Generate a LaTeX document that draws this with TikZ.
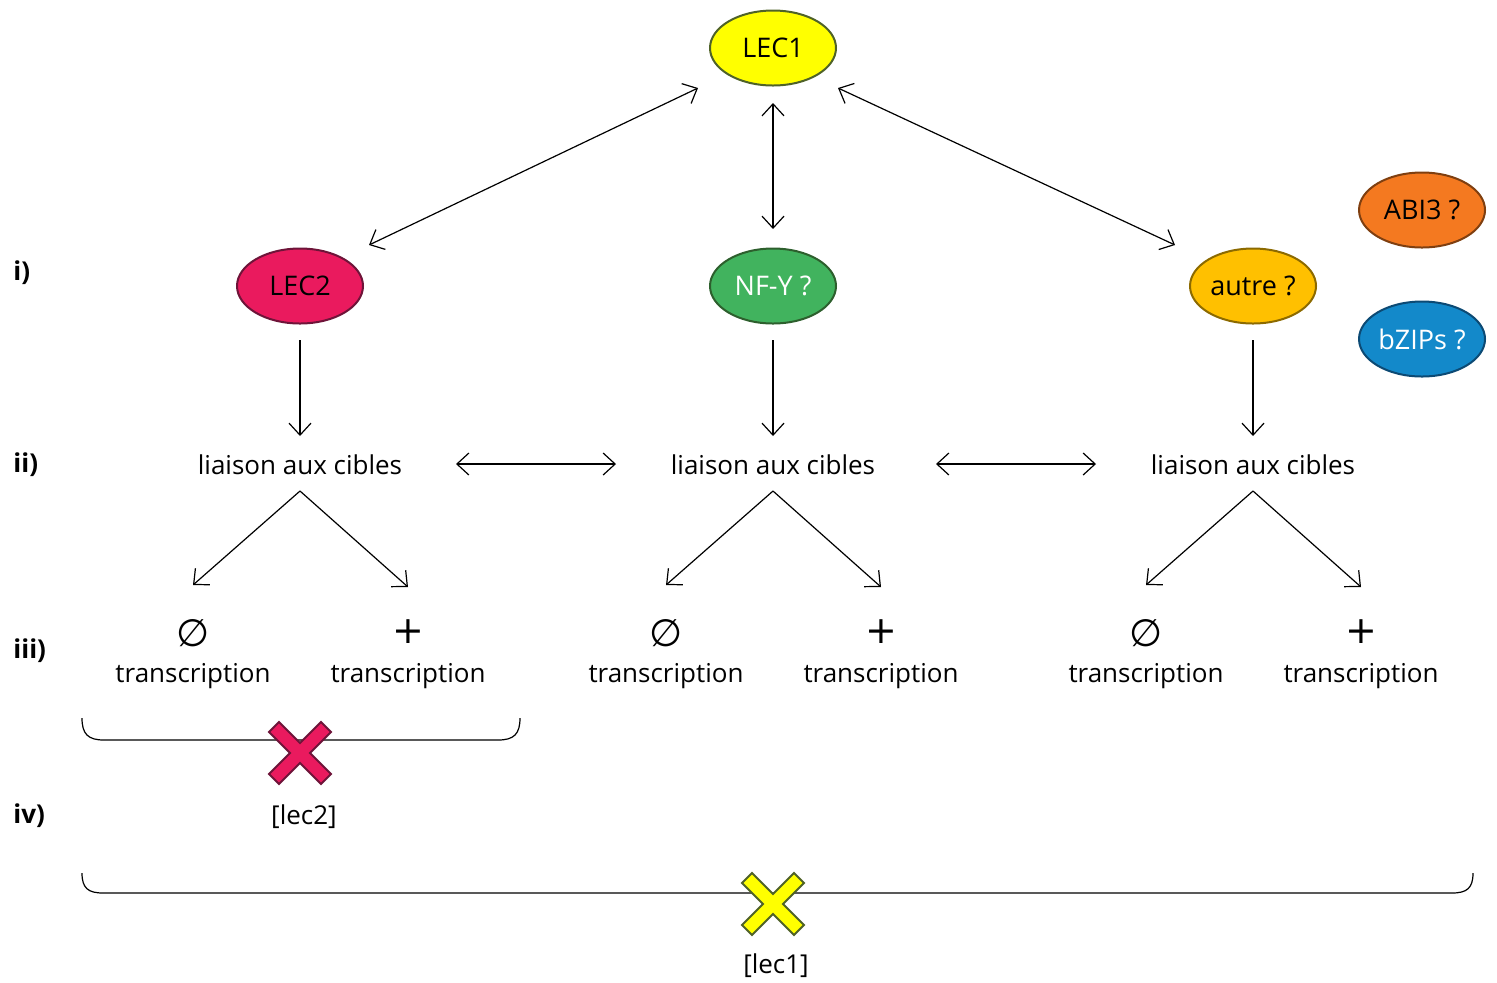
\documentclass[tikz,border=0pt]{standalone}
\usepackage{fontspec}
\setmainfont{Open Sans}
\newfontfamily\symfont{DejaVu Sans}
\usetikzlibrary{arrows.meta,shapes.geometric}
\definecolor{cLECone}{HTML}{FFFF00}
\definecolor{cLEConeB}{HTML}{4F6228}
\definecolor{cLECtwo}{HTML}{EA1A5E}
\definecolor{cLECtwoB}{HTML}{6E1439}
\definecolor{cNFY}{HTML}{41B35E}
\definecolor{cNFYB}{HTML}{2D5F2D}
\definecolor{cAutre}{HTML}{FFC000}
\definecolor{cAutreB}{HTML}{8C6A00}
\definecolor{cABI}{HTML}{F47920}
\definecolor{cABIB}{HTML}{7F3F10}
\definecolor{cBZIP}{HTML}{1389CA}
\definecolor{cBZIPB}{HTML}{0C4A74}
\newcommand{\xcross}[3]{%
  \draw[line width=1pt, draw=#2, fill=#3, shift={(#1)}]
    (0,-10) -- (21,-31) -- (31,-21) -- (10,0) -- (31,21) -- (21,31) -- (0,10)
    -- (-21,31) -- (-31,21) -- (-10,0) -- (-31,-21) -- (-21,-31) -- cycle;}
\tikzset{
  ell/.style={ellipse, draw, line width=1pt, minimum width=63pt, minimum height=37.5pt, inner sep=0pt, font=\fontsize{13.5}{15}\selectfont},
  txt/.style={inner sep=0pt, font=\fontsize{13}{15}\selectfont},
  lbl/.style={inner sep=0pt, anchor=west, font=\bfseries\fontsize{13}{15}\selectfont},
  sym/.style={inner sep=0pt, font=\symfont\fontsize{19}{21}\selectfont},
  ar/.style={line width=0.6pt, -{Straight Barb[length=6pt,width=11pt]}},
  dar/.style={line width=0.6pt, {Straight Barb[length=6pt,width=11pt]}-{Straight Barb[length=6pt,width=11pt]}},
  brace/.style={line width=0.6pt}
}
\begin{document}
\begin{tikzpicture}[x=0.5pt,y=-0.5pt]
\useasboundingbox (0,0) rectangle (1497,982);
% ellipses
\node[ell, fill=cLECone, draw=cLEConeB] (LEC1) at (773,48) {LEC1};
\node[ell, fill=cLECtwo, draw=cLECtwoB] (LEC2) at (300,286) {LEC2};
\node[ell, fill=cNFY, draw=cNFYB, text=white] (NFY) at (773,286) {NF-Y ?};
\node[ell, fill=cAutre, draw=cAutreB] (autre) at (1253,286) {autre ?};
\node[ell, fill=cABI, draw=cABIB] (ABI) at (1422,210) {ABI3 ?};
\node[ell, fill=cBZIP, draw=cBZIPB, text=white] (bZIP) at (1422,339) {bZIPs ?};
% row labels
\node[lbl] (li) at (13,273) {i)};
\node[lbl] (lii) at (13,465) {ii)};
\node[lbl] (liii) at (13,651) {iii)};
\node[lbl] (liv) at (13,816) {iv)};
% liaison nodes
\node[txt] (L1) at (300,465) {liaison aux cibles};
\node[txt] (L2) at (773,465) {liaison aux cibles};
\node[txt] (L3) at (1253,465) {liaison aux cibles};
% transcription
\foreach \n/\xa/\xb in {1/193/408, 2/666/881, 3/1146/1361} {
  \node[sym] (z\n) at (\xa,633) {∅};
  \node[sym] (p\n) at (\xb,632) {+};
  \node[txt] (tz\n) at (\xa,676) {transcription};
  \node[txt] (tp\n) at (\xb,676) {transcription};
}
% arrow end coordinates
\coordinate (a1) at (698,88);  \coordinate (a2) at (369,245);
\coordinate (b1) at (773,103); \coordinate (b2) at (773,229);
\coordinate (c1) at (838,88);  \coordinate (c2) at (1175,245);
\draw[dar] (a1) -- (a2);
\draw[dar] (b1) -- (b2);
\draw[dar] (c1) -- (c2);
\foreach \n/\x in {LEC2/300, NFY/773, autre/1253} {
  \coordinate (\n-s) at (\x,340);
  \coordinate (\n-t) at (\x,436);
  \draw[ar] (\n-s) -- (\n-t);
}
\coordinate (h1) at (456,464); \coordinate (h2) at (616,464);
\coordinate (h3) at (936,464); \coordinate (h4) at (1096,464);
\draw[dar] (h1) -- (h2);
\draw[dar] (h3) -- (h4);
\foreach \n/\x/\xa/\xb in {1/300/193/408, 2/773/666/881, 3/1253/1146/1361} {
  \coordinate (top\n) at (\x,491);
  \coordinate (zl\n) at (\xa,585);
  \coordinate (pl\n) at (\xb,587);
  \draw[ar] (top\n) -- (zl\n);
  \draw[ar] (top\n) -- (pl\n);
}
% braces
\draw[brace] (82,718) .. controls (82,734) and (88,740) .. (104,740) -- (498,740) .. controls (514,740) and (520,734) .. (520,718);
\draw[brace] (82,873) .. controls (82,888) and (88,893) .. (103,893) -- (1452,893) .. controls (1467,893) and (1473,888) .. (1473,873);
% crosses
\xcross{300,753}{cLECtwoB}{cLECtwo}
\xcross{773,904}{cLEConeB}{cLECone}
\node[txt] (m2) at (304,817) {[lec2]};
\node[txt] (m1) at (776,966) {[lec1]};
\end{tikzpicture}
\end{document}
